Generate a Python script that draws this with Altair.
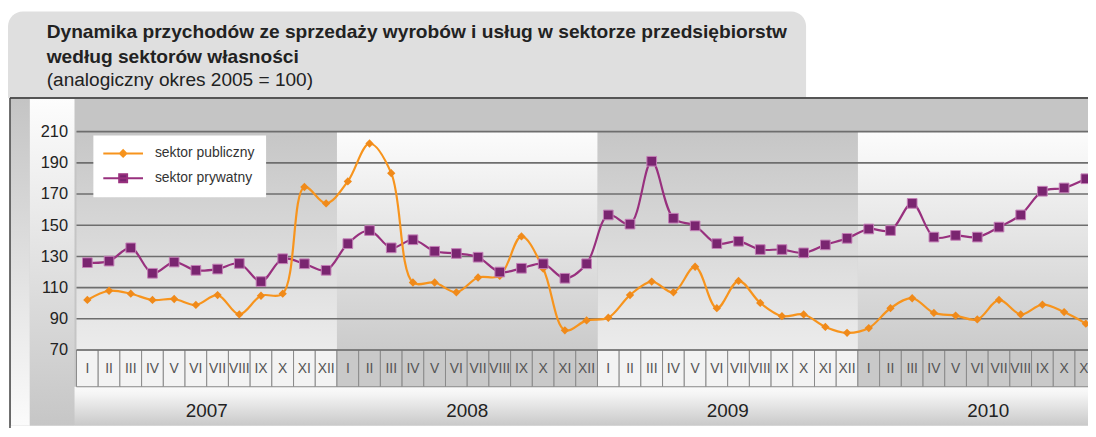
import altair as alt
import pandas as pd

# ---------------- data ----------------
years = [2007, 2008, 2009, 2010]
months = ["I", "II", "III", "IV", "V", "VI", "VII", "VIII", "IX", "X", "XI", "XII"]
series_names = ["sektor publiczny", "sektor prywatny"]

publiczny = [102.1, 108.0, 106.1, 102.1, 102.7, 98.9, 105.2, 92.8, 104.8, 106.1, 174.5, 164.0,
             178.1, 202.4, 183.4, 113.3, 113.3, 107.0, 116.5, 117.5, 142.8, 122.2, 82.6, 89.0,
             90.7, 105.2, 113.9, 107.0, 123.4, 96.8, 114.3, 100.2, 91.7, 92.8, 84.8, 81.0,
             84.1, 96.8, 103.2, 93.8, 92.1, 89.6, 102.1, 92.8, 99.1, 94.3, 86.9]
prywatny = [126.0, 127.0, 135.5, 119.2, 126.4, 121.1, 121.9, 125.5, 113.9, 128.5, 125.3, 121.1,
            138.2, 146.6, 135.5, 140.7, 133.3, 131.9, 129.5, 120.0, 122.4, 125.3, 116.0, 125.3,
            156.6, 150.7, 191.0, 154.5, 149.6, 138.2, 139.7, 134.4, 134.4, 132.3, 137.4, 141.6,
            147.6, 146.6, 164.0, 142.4, 143.5, 142.4, 148.8, 156.6, 171.8, 173.9, 179.8]
y_ticks = [70, 90, 110, 130, 150, 170, 190, 210]

title_lines = ["Dynamika przychodów ze sprzedaży wyrobów i usług w sektorze przedsiębiorstw",
               "według sektorów własności"]
subtitle = "(analogiczny okres 2005 = 100)"

# ---------------- tables ----------------
rows = []
for name, vals in [("sektor prywatny", prywatny), ("sektor publiczny", publiczny)]:
    for i, v in enumerate(vals):
        rows.append({"pos": i + 0.5, "series": name, "value": v})
df = pd.DataFrame(rows)
n_months = len(publiczny)

mrows = []
for k, yr in enumerate(years):
    for j, m in enumerate(months):
        i = 12 * k + j
        mrows.append({"start": i, "end": i + 1, "mid": i + 0.5, "label": m, "odd": k % 2})
mdf = pd.DataFrame(mrows)

ydf = pd.DataFrame({"year": [str(y) for y in years],
                    "start": [12 * k for k in range(len(years))],
                    "end": [12 * k + 12 for k in range(len(years))],
                    "mid": [12 * k + 6 for k in range(len(years))],
                    "odd": [k % 2 for k in range(len(years))]})
gdf = pd.DataFrame({"value": y_ticks})
one = pd.DataFrame({"a": [0]})

# ---------------- style ----------------
FONT = "Liberation Sans, Arial, sans-serif"
W, H = 1019, 220
ORANGE, PURPLE = "#f7941d", "#98307e"

xs = alt.Scale(domain=[0, 46.6], nice=False, zero=False)
ys = alt.Scale(domain=[70, 210], nice=False, zero=False)
yaxis = alt.Axis(values=y_ticks, grid=False, domain=False, ticks=False, labelPadding=9,
                 labelFontSize=16.5, labelFont=FONT, labelColor="#222", title=None, zindex=1)


def grad(stops):
    return alt.LinearGradient(gradient="linear",
                              stops=[alt.GradientStop(color=c, offset=o) for o, c in stops],
                              x1=0, x2=0, y1=0, y2=1)


def box(x, x2, y, y2, fill, **kw):
    return alt.Chart(one).mark_rect(fill=fill, **kw).encode(
        x=alt.value(x), x2=alt.value(x2), y=alt.value(y), y2=alt.value(y2))


title_box = box(-69, 735, -121, -34, "#dfdfdf", cornerRadiusTopLeft=15, cornerRadiusTopRight=15)
panel = box(-67, W, -33, 296, "#c5c5c5")
strip = box(-66, -47, -33, 296, grad([(0, "#c4c4c4"), (1, "#fbfbfb")]))
labcol = box(-47, -2, -33, 296, grad([(0, "#fdfdfd"), (1, "#c6c6c6")]))
yearband = box(-2, W, H + 37, H + 76, grad([(0, "#fbfbfb"), (0.2, "#f4f4f4"), (1, "#c9c9c9")]))

topline = alt.Chart(one).mark_rule(color="#555555", strokeWidth=2).encode(
    x=alt.value(-67), x2=alt.value(W), y=alt.value(-34))
leftline = alt.Chart(one).mark_rule(color="#444444", strokeWidth=1.5).encode(
    x=alt.value(-67), y=alt.value(-34), y2=alt.value(300))

bg_dark = alt.Chart(ydf).transform_filter("datum.odd == 0").mark_rect(
    fill=grad([(0, "#c6c6c6"), (1, "#ececec")])).encode(
    x=alt.X("start:Q", scale=xs, axis=None), x2="end:Q", y=alt.value(0), y2=alt.value(H))
bg_light = alt.Chart(ydf).transform_filter("datum.odd == 1").mark_rect(
    fill=grad([(0, "#fcfcfc"), (1, "#cbcbcb")])).encode(
    x=alt.X("start:Q", scale=xs, axis=None), x2="end:Q", y=alt.value(0), y2=alt.value(H))

cells_light = alt.Chart(mdf).transform_filter("datum.odd == 0").mark_rect(
    fill="#f3f3f3", stroke="#8a8a8a", strokeWidth=1).encode(
    x=alt.X("start:Q", scale=xs, axis=None), x2="end:Q",
    y=alt.value(H), y2=alt.value(H + 37))
cells_dark = alt.Chart(mdf).transform_filter("datum.odd == 1").mark_rect(
    fill="#c9c9c9", stroke="#8a8a8a", strokeWidth=1).encode(
    x=alt.X("start:Q", scale=xs, axis=None), x2="end:Q",
    y=alt.value(H), y2=alt.value(H + 37))

grid = alt.Chart(gdf).mark_rule(color="#6e6e6e", strokeWidth=1.6).encode(
    y=alt.Y("value:Q", scale=ys, axis=yaxis), x=alt.value(0), x2=alt.value(W))

mlabels = alt.Chart(mdf).transform_filter(f"datum.start < {n_months}").mark_text(
    fontSize=14, font=FONT, color="#555555").encode(
    x=alt.X("mid:Q", scale=xs, axis=None), y=alt.value(H + 19), text="label:N")
ylabels = alt.Chart(ydf).mark_text(fontSize=19, font=FONT, color="#222222").encode(
    x=alt.X("mid:Q", scale=xs, axis=None), y=alt.value(H + 61), text="year:N")

t1 = alt.Chart(one).mark_text(align="left", baseline="middle", fontSize=19.3, fontWeight="bold",
                              font=FONT, color="#222").encode(
    x=alt.value(-30), y=alt.value(-100), text=alt.value(title_lines[0]))
t2 = alt.Chart(one).mark_text(align="left", baseline="middle", fontSize=19.3, fontWeight="bold",
                              font=FONT, color="#222").encode(
    x=alt.value(-30), y=alt.value(-75), text=alt.value(title_lines[1]))
t3 = alt.Chart(one).mark_text(align="left", baseline="middle", fontSize=19.2,
                              font=FONT, color="#222").encode(
    x=alt.value(-30), y=alt.value(-52), text=alt.value(subtitle))

# legend symbols: a line segment with the marker in its middle
LEG_SHAPES = ["M-4,0H4M0,-0.65L0.65,0L0,0.65L-0.65,0Z", "M-4,0H4M-0.8,-0.8H0.8V0.8H-0.8Z"]
legend = alt.Legend(title=None, orient="none", legendX=17, legendY=4, fillColor="white",
                    padding=11, rowPadding=9, labelFontSize=14, labelFont=FONT,
                    labelColor="#333333", symbolSize=100, symbolStrokeWidth=2,
                    symbolOffset=12, labelOffset=25)

legend_carrier = alt.Chart(df).transform_filter("false").mark_point(
    filled=False, strokeWidth=2, size=100, opacity=1).encode(
    color=alt.Color("series:N", scale=alt.Scale(domain=series_names, range=[ORANGE, PURPLE]),
                    legend=legend),
    fill=alt.Fill("series:N", scale=alt.Scale(domain=series_names, range=["#f08a1a", "#7a2570"]),
                  legend=legend),
    shape=alt.Shape("series:N", scale=alt.Scale(domain=series_names, range=LEG_SHAPES),
                    legend=legend))

lines = alt.Chart(df).mark_line(interpolate="catmull-rom", strokeWidth=2.2).encode(
    x=alt.X("pos:Q", scale=xs, axis=None),
    y=alt.Y("value:Q", scale=ys, axis=yaxis),
    color=alt.Color("series:N", scale=alt.Scale(domain=series_names, range=[ORANGE, PURPLE]),
                    legend=None),
    order="pos:Q")

pts_pub = alt.Chart(df).transform_filter("datum.series == 'sektor publiczny'").mark_point(
    shape="diamond", filled=True, size=70, color="#f08a1a", opacity=1).encode(
    x=alt.X("pos:Q", scale=xs, axis=None), y=alt.Y("value:Q", scale=ys, axis=yaxis))
pts_pry = alt.Chart(df).transform_filter("datum.series == 'sektor prywatny'").mark_point(
    shape="square", filled=True, size=95, fill="#7a2570", stroke="#c47fb6", strokeWidth=1,
    opacity=1).encode(
    x=alt.X("pos:Q", scale=xs, axis=None), y=alt.Y("value:Q", scale=ys, axis=yaxis))

chart = alt.layer(
    title_box, panel, strip, labcol, yearband, topline, leftline,
    bg_dark, bg_light, cells_light, cells_dark, grid, mlabels, ylabels, t1, t2, t3,
    legend_carrier, lines, pts_pub, pts_pry
).properties(
    width=W, height=H,
    autosize=alt.AutoSizeParams(type="none"),
    padding={"left": 69, "top": 123, "right": 0, "bottom": 77},
    background="white"
).configure_view(strokeWidth=0)

chart.save("out.html", embed_options={"renderer": "svg", "actions": False})
